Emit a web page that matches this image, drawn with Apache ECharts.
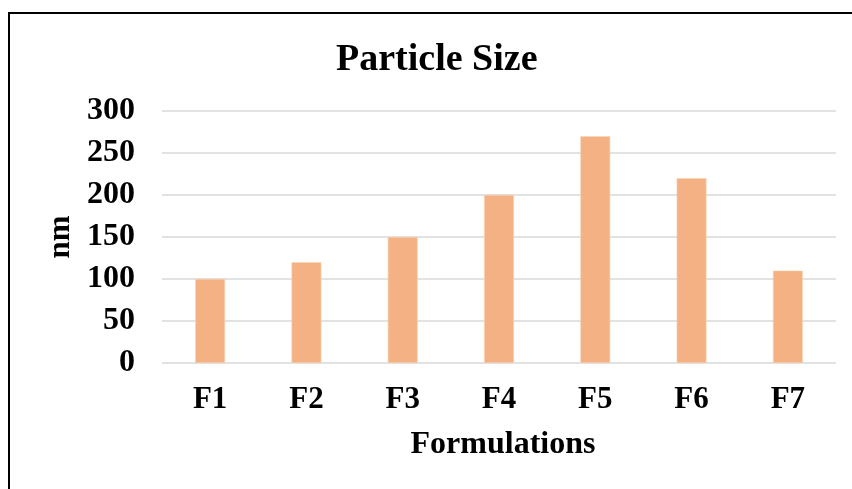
<!DOCTYPE html>
<html>
<head>
<meta charset="utf-8">
<script src="https://cdn.jsdelivr.net/npm/echarts@6/dist/echarts.min.js"></script>
<style>html,body{margin:0;padding:0;background:#fff;}#c{width:852px;height:489px;}</style>
</head>
<body>
<div id="c"></div>
<script>
const categories = ['F1', 'F2', 'F3', 'F4', 'F5', 'F6', 'F7'];
const particleSize = [100, 120, 150, 200, 270, 220, 110];
const yTicks = [0, 50, 100, 150, 200, 250, 300];

const font = '"Liberation Serif", "Times New Roman", serif';
const chart = echarts.init(document.getElementById('c'));
chart.setOption({
  backgroundColor: '#fff',
  animation: false,
  title: {
    text: 'Particle Size',
    left: 331,
    top: 36,
    textStyle: { fontFamily: font, fontWeight: 'bold', fontSize: 38, color: '#000', lineHeight: 38 }
  },
  graphic: [{
    type: 'rect',
    shape: { x: 9, y: 13, width: 900, height: 600 },
    style: { fill: 'none', stroke: '#000', lineWidth: 2 },
    silent: true
  }],
  grid: { left: 162, right: 16, top: 111, bottom: 126 },
  xAxis: {
    type: 'category',
    data: categories,
    name: 'Formulations',
    nameLocation: 'middle',
    nameGap: 66,
    nameTextStyle: { fontFamily: font, fontWeight: 'bold', fontSize: 32, color: '#000', padding: [0, 0, 0, 8] },
    axisLine: { show: false },
    axisTick: { show: false },
    axisLabel: { fontFamily: font, fontWeight: 'bold', fontSize: 31, color: '#000', margin: 21 }
  },
  yAxis: {
    type: 'value',
    min: yTicks[0],
    max: yTicks[yTicks.length - 1],
    interval: 50,
    name: 'nm',
    nameLocation: 'middle',
    nameGap: 83,
    nameTextStyle: { fontFamily: font, fontWeight: 'bold', fontSize: 31, color: '#000' },
    axisLine: { show: false },
    axisTick: { show: false },
    axisLabel: { fontFamily: font, fontWeight: 'bold', fontSize: 32, color: '#000', margin: 27 },
    splitLine: { lineStyle: { color: '#D9D9D9', width: 1.5 } }
  },
  series: [{
    type: 'bar',
    data: particleSize,
    barWidth: '31%',
    itemStyle: { color: '#F4B183', borderColor: '#F9D3B6', borderWidth: 0.6 }
  }]
});
</script>
</body>
</html>
